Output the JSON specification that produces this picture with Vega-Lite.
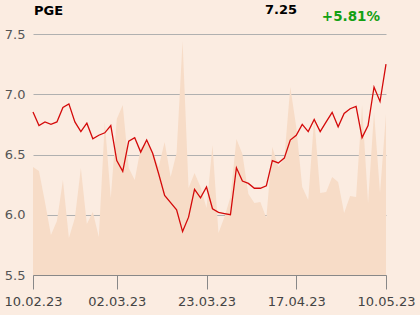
{
  "$schema": "https://vega.github.io/schema/vega-lite/v6.json",
  "width": 353,
  "height": 241,
  "autosize": {"type": "none"},
  "padding": {"left": 33, "top": 34, "right": 34, "bottom": 40},
  "background": "#fbece1",
  "config": {"view": {"stroke": null}, "font": "DejaVu Sans"},
  "datasets": {
    "prices": [
      {"d":"10.02.23","p":6.852,"v":108},{"d":"13.02.23","p":6.74,"v":104},{"d":"14.02.23","p":6.77,"v":73},{"d":"15.02.23","p":6.75,"v":40},
      {"d":"16.02.23","p":6.77,"v":54},{"d":"17.02.23","p":6.89,"v":95},{"d":"20.02.23","p":6.92,"v":37},{"d":"21.02.23","p":6.77,"v":57},
      {"d":"22.02.23","p":6.69,"v":107},{"d":"23.02.23","p":6.76,"v":51},{"d":"24.02.23","p":6.63,"v":63},{"d":"27.02.23","p":6.66,"v":38},
      {"d":"28.02.23","p":6.68,"v":153},{"d":"01.03.23","p":6.74,"v":77},{"d":"02.03.23","p":6.45,"v":156},{"d":"03.03.23","p":6.36,"v":170},
      {"d":"06.03.23","p":6.61,"v":107},{"d":"07.03.23","p":6.64,"v":95},{"d":"08.03.23","p":6.52,"v":127},{"d":"09.03.23","p":6.62,"v":132},
      {"d":"10.03.23","p":6.51,"v":123},{"d":"13.03.23","p":6.34,"v":108},{"d":"14.03.23","p":6.16,"v":133},{"d":"15.03.23","p":6.10,"v":98},
      {"d":"16.03.23","p":6.04,"v":122},{"d":"17.03.23","p":5.86,"v":234},{"d":"20.03.23","p":5.98,"v":87},{"d":"21.03.23","p":6.21,"v":102},
      {"d":"22.03.23","p":6.14,"v":88},{"d":"23.03.23","p":6.23,"v":67},{"d":"24.03.23","p":6.05,"v":130},{"d":"27.03.23","p":6.02,"v":42},
      {"d":"28.03.23","p":6.01,"v":58},{"d":"29.03.23","p":6.00,"v":78},{"d":"30.03.23","p":6.39,"v":136},{"d":"31.03.23","p":6.28,"v":121},
      {"d":"03.04.23","p":6.26,"v":81},{"d":"04.04.23","p":6.22,"v":72},{"d":"05.04.23","p":6.22,"v":73},{"d":"06.04.23","p":6.24,"v":57},
      {"d":"11.04.23","p":6.45,"v":128},{"d":"12.04.23","p":6.43,"v":108},{"d":"13.04.23","p":6.47,"v":116},{"d":"14.04.23","p":6.62,"v":188},
      {"d":"17.04.23","p":6.66,"v":148},{"d":"18.04.23","p":6.75,"v":88},{"d":"19.04.23","p":6.69,"v":75},{"d":"20.04.23","p":6.79,"v":157},
      {"d":"21.04.23","p":6.69,"v":82},{"d":"24.04.23","p":6.77,"v":83},{"d":"25.04.23","p":6.85,"v":98},{"d":"26.04.23","p":6.73,"v":93},
      {"d":"27.04.23","p":6.84,"v":62},{"d":"28.04.23","p":6.88,"v":79},{"d":"02.05.23","p":6.90,"v":78},{"d":"04.05.23","p":6.64,"v":170},
      {"d":"05.05.23","p":6.74,"v":72},{"d":"08.05.23","p":7.06,"v":163},{"d":"09.05.23","p":6.94,"v":82},{"d":"10.05.23","p":7.25,"v":161}
    ],
    "header": [{"name": "PGE", "last": "7.25", "change": "+5.81%"}]
  },
  "data": {"name": "prices"},
  "encoding": {
    "x": {
      "field": "d", "type": "ordinal", "sort": null,
      "scale": {"type": "point", "padding": 0},
      "axis": {
        "title": null, "values": ["10.02.23","02.03.23","23.03.23","17.04.23","10.05.23"],
        "labelAngle": 0, "labelFontSize": 13, "labelColor": "#444444", "labelFont": "DejaVu Sans",
        "tickSize": 14, "tickColor": "#888888", "domainColor": "#888888", "labelPadding": 6, "grid": false
      }
    }
  },
  "layer": [
    {
      "mark": {"type": "area", "color": "#f7dcc7", "opacity": 1},
      "encoding": {
        "y": {"field": "v", "type": "quantitative", "scale": {"domain": [0, 241], "nice": false}, "axis": null}
      }
    },
    {
      "layer": [
        {
          "mark": {"type": "line", "color": "#d40a0a", "strokeWidth": 1.3},
          "encoding": {
            "y": {
              "field": "p", "type": "quantitative",
              "scale": {"domain": [5.5, 7.5], "nice": false, "zero": false},
              "axis": {
                "title": null, "values": [5.5, 6, 6.5, 7, 7.5], "format": ".1f",
                "domain": false, "ticks": false, "labelFontSize": 13, "labelColor": "#555555",
                "labelPadding": 8, "gridColor": "#b0b0b0", "gridWidth": 1, "grid": true
              }
            }
          }
        },
        {
          "data": {"name": "header"},
          "mark": {"type": "text", "align": "left", "baseline": "alphabetic", "fontSize": 13, "fontWeight": "bold", "color": "#000000", "dx": 1, "dy": -19},
          "encoding": {
            "x": {"datum": "10.02.23"},
            "y": {"datum": 7.5},
            "text": {"field": "name"}
          }
        },
        {
          "data": {"name": "header"},
          "mark": {"type": "text", "align": "right", "baseline": "alphabetic", "fontSize": 13, "fontWeight": "bold", "color": "#000000", "dx": -89, "dy": -20.5},
          "encoding": {
            "x": {"datum": "10.05.23"},
            "y": {"datum": 7.5},
            "text": {"field": "last"}
          }
        },
        {
          "data": {"name": "header"},
          "mark": {"type": "text", "align": "right", "baseline": "alphabetic", "fontSize": 13.5, "fontWeight": "bold", "color": "#13a013", "dx": -6, "dy": -13.5},
          "encoding": {
            "x": {"datum": "10.05.23"},
            "y": {"datum": 7.5},
            "text": {"field": "change"}
          }
        }
      ]
    }
  ],
  "resolve": {"scale": {"y": "independent"}}
}
